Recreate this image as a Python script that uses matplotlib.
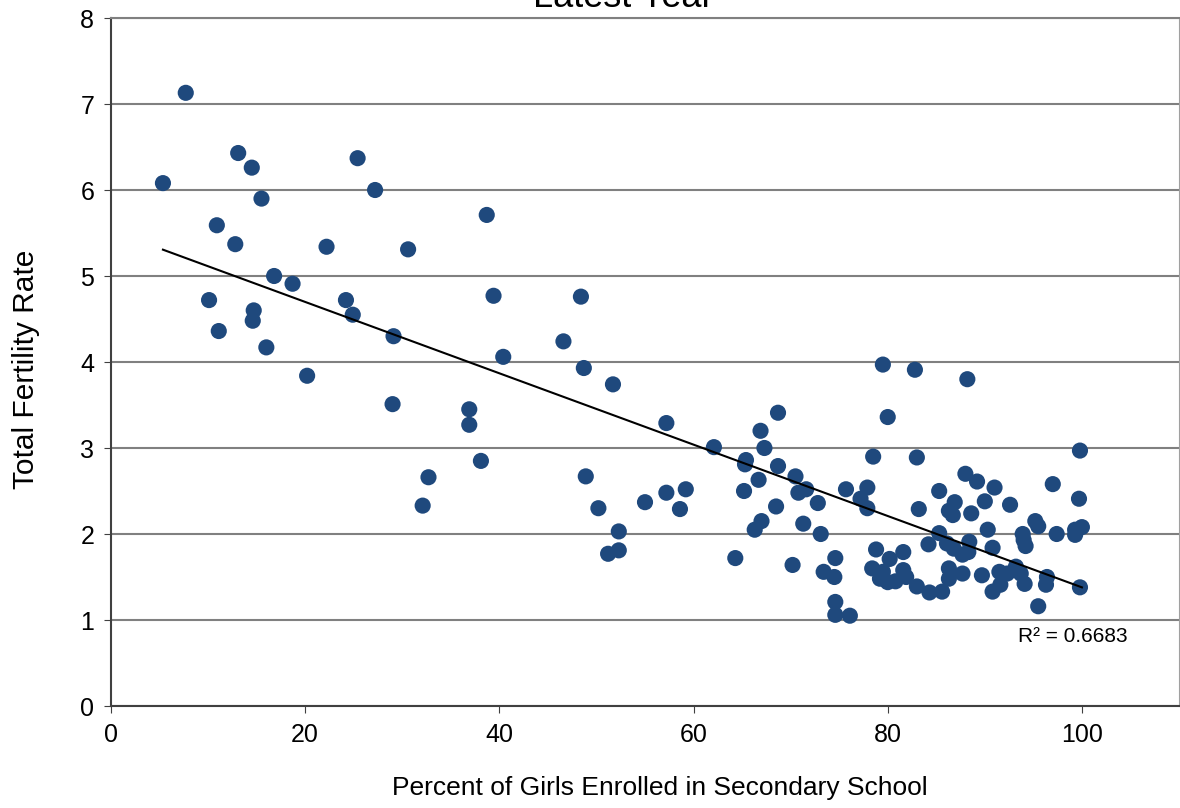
import matplotlib.pyplot as plt
import numpy as np

plt.rcParams["font.family"] = ["Liberation Sans", "DejaVu Sans"]

# percent of girls enrolled in secondary school vs total fertility rate
girls_enrolled = [
    5.35, 7.7, 13.1, 14.5, 15.5, 10.9, 12.8, 16.8, 18.7, 10.1,
    11.1, 14.7, 14.6, 16.0, 20.2, 22.2, 25.4, 27.2, 24.2, 24.9,
    30.6, 29.1, 29.0, 32.1, 32.7, 38.7, 39.4, 40.4, 36.9, 36.9,
    38.1, 46.6, 48.4, 48.7, 51.7, 48.9, 50.2, 51.2, 52.3, 52.3,
    55.0, 57.2, 57.2, 58.6, 59.2,
    62.1, 64.3, 65.4, 65.3, 68.7, 66.9, 67.3, 68.7, 66.7, 65.2,
    70.5, 71.6, 70.8, 72.8, 68.5, 67.0, 66.3, 71.3, 73.1, 70.2,
    74.6, 73.4, 74.5, 74.6, 74.6, 76.1, 75.7, 77.9, 77.2, 77.9,
    78.5, 80.0, 79.5, 82.8, 88.2, 83.0, 99.8,
    78.8, 80.2, 81.6, 78.4, 79.5, 79.2, 80.0, 80.8, 81.6, 81.9,
    83.0, 84.3, 85.6,
    83.2, 85.3, 88.0, 89.2, 91.0, 86.9, 86.3, 86.7, 88.6, 90.0,
    92.6, 90.3, 85.3, 84.2, 86.1, 86.8, 87.7, 88.3, 88.4, 90.8,
    86.3, 86.3, 87.7, 89.7, 90.8, 91.5, 91.6, 92.3, 93.2, 93.7,
    94.1, 93.9, 94.0, 94.2, 95.2, 95.5, 97.0, 99.7, 97.4, 99.3,
    100.0, 99.3, 96.4, 96.3, 99.8, 95.5,
]
fertility_rate = [
    6.08, 7.13, 6.43, 6.26, 5.90, 5.59, 5.37, 5.00, 4.91, 4.72,
    4.36, 4.60, 4.48, 4.17, 3.84, 5.34, 6.37, 6.00, 4.72, 4.55,
    5.31, 4.30, 3.51, 2.33, 2.66, 5.71, 4.77, 4.06, 3.45, 3.27,
    2.85, 4.24, 4.76, 3.93, 3.74, 2.67, 2.30, 1.77, 2.03, 1.81,
    2.37, 2.48, 3.29, 2.29, 2.52,
    3.01, 1.72, 2.86, 2.81, 3.41, 3.20, 3.00, 2.79, 2.63, 2.50,
    2.67, 2.52, 2.48, 2.36, 2.32, 2.15, 2.05, 2.12, 2.00, 1.64,
    1.72, 1.56, 1.50, 1.21, 1.06, 1.05, 2.52, 2.54, 2.41, 2.30,
    2.90, 3.36, 3.97, 3.91, 3.80, 2.89, 2.97,
    1.82, 1.71, 1.79, 1.60, 1.56, 1.48, 1.44, 1.45, 1.58, 1.50,
    1.39, 1.32, 1.33,
    2.29, 2.50, 2.70, 2.61, 2.54, 2.37, 2.27, 2.22, 2.24, 2.38,
    2.34, 2.05, 2.01, 1.88, 1.89, 1.83, 1.76, 1.79, 1.91, 1.84,
    1.60, 1.48, 1.54, 1.52, 1.33, 1.56, 1.41, 1.54, 1.62, 1.54,
    1.42, 2.00, 1.93, 1.86, 2.15, 2.09, 2.58, 2.41, 2.00, 2.05,
    2.08, 1.99, 1.50, 1.41, 1.38, 1.16,
]

x = np.array(girls_enrolled)
y = np.array(fertility_rate)

fig = plt.figure(figsize=(11.8, 8.08), dpi=100)
ax = fig.add_axes([111 / 1180, 1 - 706 / 808, 1068 / 1180, 688 / 808])

ax.set_axisbelow(True)
ax.yaxis.grid(True, color="#808080", linewidth=1.5)
ax.scatter(x, y, s=135, color="#1F497D", edgecolors="none", zorder=3)

# linear trendline
slope, intercept = np.polyfit(x, y, 1)
xs = np.array([x.min(), x.max()])
ax.plot(xs, slope * xs + intercept, color="black", linewidth=1.5, zorder=4)
ax.text(1018 / 1180, 1 - 637 / 808, "R² = 0.6683", transform=fig.transFigure,
        fontsize=15, va="center", ha="left")

ax.set_xlim(0, 110)
ax.set_ylim(0, 8)
ax.set_xticks(range(0, 101, 20))
ax.set_yticks(range(0, 9))
ax.tick_params(labelsize=18, direction="out", length=5, color="#404040", pad=7)

for side in ["left", "bottom"]:
    ax.spines[side].set_color("#404040")
    ax.spines[side].set_linewidth(1.5)
ax.spines["right"].set_color("#a0a0a0")
ax.spines["top"].set_color("#808080")
ax.spines["top"].set_linewidth(1.5)

ax.set_xlabel("Percent of Girls Enrolled in Secondary School", fontsize=19, va="center")
ax.xaxis.set_label_coords(0.514, -0.119)
ax.set_ylabel("Total Fertility Rate", fontsize=21.5, va="center")
ax.yaxis.set_label_coords(-0.08, 0.49)
fig.text(623 / 1180, 1 - 7 / 808, "Latest Year", fontsize=26, ha="center", va="baseline")

fig.savefig("out.png", dpi=100)
